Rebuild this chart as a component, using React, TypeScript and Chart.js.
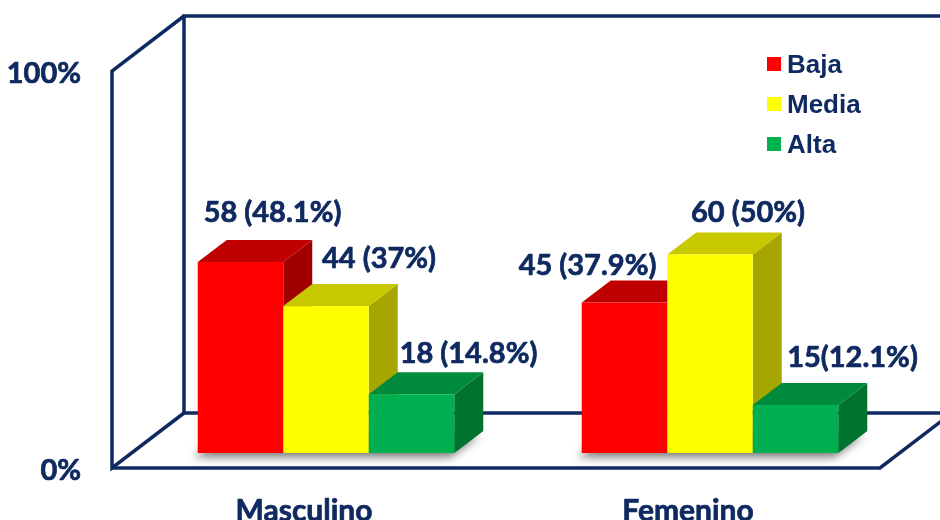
import React, { useEffect, useRef } from 'react';
import { Chart, registerables } from 'chart.js';

Chart.register(...registerables);

// ---- data ----
const CATEGORIES = ['Masculino', 'Femenino'];
const SERIES_NAMES = ['Baja', 'Media', 'Alta'];
const BAJA_PCT = [48.1, 37.9];
const MEDIA_PCT = [37, 50];
const ALTA_PCT = [14.8, 12.1];
const BAJA_TEXT = ['58 (48.1%)', '45 (37.9%)'];
const MEDIA_TEXT = ['44 (37%)', '60 (50%)'];
const ALTA_TEXT = ['18 (14.8%)', '15(12.1%)'];
const Y_TICKS = [0, 100];

// ---- styles ----
const NAVY = '#0f2a60';
const FRONT_SHIFT = [-22, 15];
const BACK_SHIFT = [50, -40];
const BAR_DEPTH = [29, -22];
const VALUE_FONT = 'bold 29px Lato';
const CATEGORY_FONT = 'bold 30px Lato';
const LEGEND_FONT = 'bold 26px "Liberation Sans"';
const FACE_COLORS = [
  { front: '#ff0000', top: '#c00000', side: '#a00000' },
  { front: '#ffff00', top: '#c8c800', side: '#a6a600' },
  { front: '#00b050', top: '#008a3c', side: '#00742f' },
];
// label offsets relative to the bar's front-top centre [series][category]
const LABEL_DX = [[32, -37], [53, 38], [57, 57]];
const LABEL_DY = [[-40, -28], [-38, -33], [-31, -38]];

const box3d = {
  id: 'box3d',
  beforeDatasetsDraw(chart: any) {
    const { ctx, chartArea: a, scales } = chart;
    const y = scales.y;
    const y0 = y.getPixelForValue(0);
    const y1 = y.getPixelForValue(100);
    const L = a.left;
    const R = a.right;
    const f = (px: number, py: number) => [px + FRONT_SHIFT[0], py + FRONT_SHIFT[1]];
    const b = (px: number, py: number) => [px + BACK_SHIFT[0], py + BACK_SHIFT[1]];
    const path = (pts: number[][]) => {
      ctx.beginPath();
      ctx.moveTo(pts[0][0], pts[0][1]);
      for (let i = 1; i < pts.length; i++) ctx.lineTo(pts[i][0], pts[i][1]);
      ctx.stroke();
    };
    ctx.save();
    ctx.strokeStyle = NAVY;
    ctx.lineWidth = 3.5;
    ctx.lineJoin = 'miter';
    ctx.lineCap = 'butt';
    path([b(R, y0), b(L, y0), b(L, y1), b(R, y1)]);
    path([b(L, y1), f(L, y1), f(L, y0), b(L, y0)]);
    path([f(L, y0), f(R, y0), b(R, y0)]);
    ctx.restore();

    // soft shadows under each bar group
    const n = chart.data.datasets.length;
    CATEGORIES.forEach((_, i) => {
      const first = chart.getDatasetMeta(0).data[i] as any;
      const last = chart.getDatasetMeta(n - 1).data[i] as any;
      const xl = first.x - first.width / 2;
      const xr = last.x + last.width / 2;
      const base = first.base;
      ctx.save();
      ctx.shadowColor = 'rgba(0,0,0,0.55)';
      ctx.shadowBlur = 10;
      ctx.shadowOffsetX = -4;
      ctx.shadowOffsetY = 4;
      ctx.fillStyle = '#999';
      ctx.beginPath();
      ctx.moveTo(xl, base);
      ctx.lineTo(xr, base);
      ctx.lineTo(xr + BAR_DEPTH[0], base + BAR_DEPTH[1]);
      ctx.lineTo(xl + BAR_DEPTH[0], base + BAR_DEPTH[1]);
      ctx.closePath();
      ctx.fill();
      ctx.restore();
    });
  },
  beforeDatasetDraw() {
    return false;
  },
  afterDatasetsDraw(chart: any) {
    const { ctx, chartArea: a, scales } = chart;
    const ds = chart.data.datasets;
    const [dx, dy] = BAR_DEPTH;
    // bars, drawn left to right within each group
    CATEGORIES.forEach((_, i) => {
      ds.forEach((d: any, s: number) => {
        const el = chart.getDatasetMeta(s).data[i] as any;
        const { x, y, base, width } = el.getProps(['x', 'y', 'base', 'width'], true);
        const xl = x - width / 2;
        const xr = x + width / 2;
        const c = FACE_COLORS[s];
        ctx.save();
        ctx.fillStyle = c.side;
        ctx.beginPath();
        ctx.moveTo(xr, y);
        ctx.lineTo(xr + dx, y + dy);
        ctx.lineTo(xr + dx, base + dy);
        ctx.lineTo(xr, base);
        ctx.closePath();
        ctx.fill();
        ctx.fillStyle = c.top;
        ctx.beginPath();
        ctx.moveTo(xl, y);
        ctx.lineTo(xr, y);
        ctx.lineTo(xr + dx, y + dy);
        ctx.lineTo(xl + dx, y + dy);
        ctx.closePath();
        ctx.fill();
        ctx.fillStyle = d.backgroundColor;
        ctx.fillRect(xl, y, width, base - y);
        ctx.restore();
      });
    });

    const boldText = (t: string, px: number, py: number) => {
      ctx.fillText(t, px, py);
      ctx.strokeText(t, px, py);
    };

    // value labels
    ctx.save();
    ctx.font = VALUE_FONT;
    ctx.fillStyle = NAVY;
    ctx.strokeStyle = NAVY;
    ctx.lineWidth = 0.7;
    ctx.lineJoin = 'round';
    ctx.textAlign = 'center';
    ctx.textBaseline = 'alphabetic';
    ds.forEach((d: any, s: number) => {
      chart.getDatasetMeta(s).data.forEach((el: any, i: number) => {
        boldText(d.valueText[i], el.x + LABEL_DX[s][i], el.y + LABEL_DY[s][i]);
      });
    });

    // y tick labels on the front plane
    ctx.textAlign = 'right';
    Y_TICKS.forEach((v) => {
      const py = scales.y.getPixelForValue(v) + FRONT_SHIFT[1];
      boldText(v + '%', a.left + FRONT_SHIFT[0] - 31, py + 12);
    });

    // category labels
    ctx.font = CATEGORY_FONT;
    ctx.textAlign = 'center';
    CATEGORIES.forEach((c, i) => {
      boldText(c, scales.x.getPixelForValue(i) + FRONT_SHIFT[0], a.bottom + 68);
    });

    // legend
    ctx.font = LEGEND_FONT;
    ctx.textAlign = 'left';
    ds.forEach((d: any, s: number) => {
      const cy = 64 + s * 40;
      ctx.fillStyle = d.backgroundColor;
      ctx.fillRect(767, cy - 7, 14, 14);
      ctx.fillStyle = NAVY;
      ctx.fillText(d.label, 787, cy + 9);
    });
    ctx.restore();
  },
};

export default function App() {
  const ref = useRef<HTMLCanvasElement | null>(null);
  useEffect(() => {
    if (!ref.current) return;
    const values = [BAJA_PCT, MEDIA_PCT, ALTA_PCT];
    const texts = [BAJA_TEXT, MEDIA_TEXT, ALTA_TEXT];
    const chart = new Chart(ref.current, {
      type: 'bar',
      data: {
        labels: CATEGORIES,
        datasets: SERIES_NAMES.map((name, s) => ({
          label: name,
          data: values[s],
          valueText: texts[s],
          backgroundColor: FACE_COLORS[s].front,
          categoryPercentage: 0.668,
          barPercentage: 1,
        })) as any,
      },
      options: {
        responsive: false,
        animation: false,
        devicePixelRatio: 1,
        layout: { padding: { left: 134, right: 38, top: 56, bottom: 67 } },
        scales: {
          x: { display: false },
          y: { display: false, min: 0, max: 100 },
        },
        plugins: {
          legend: { display: false },
          tooltip: { enabled: false },
        },
      },
      plugins: [box3d],
    });
    const fonts = (document as any).fonts;
    if (fonts && fonts.load) {
      Promise.all([fonts.load(VALUE_FONT), fonts.load(CATEGORY_FONT), fonts.load(LEGEND_FONT)]).then(() => chart.update());
    }
    return () => chart.destroy();
  }, []);
  return (
    <div style={{ position: 'absolute', left: 0, top: 0, width: 940, height: 520, background: '#fff' }}>
      <canvas ref={ref} width={940} height={520} style={{ display: 'block' }} />
    </div>
  );
}
